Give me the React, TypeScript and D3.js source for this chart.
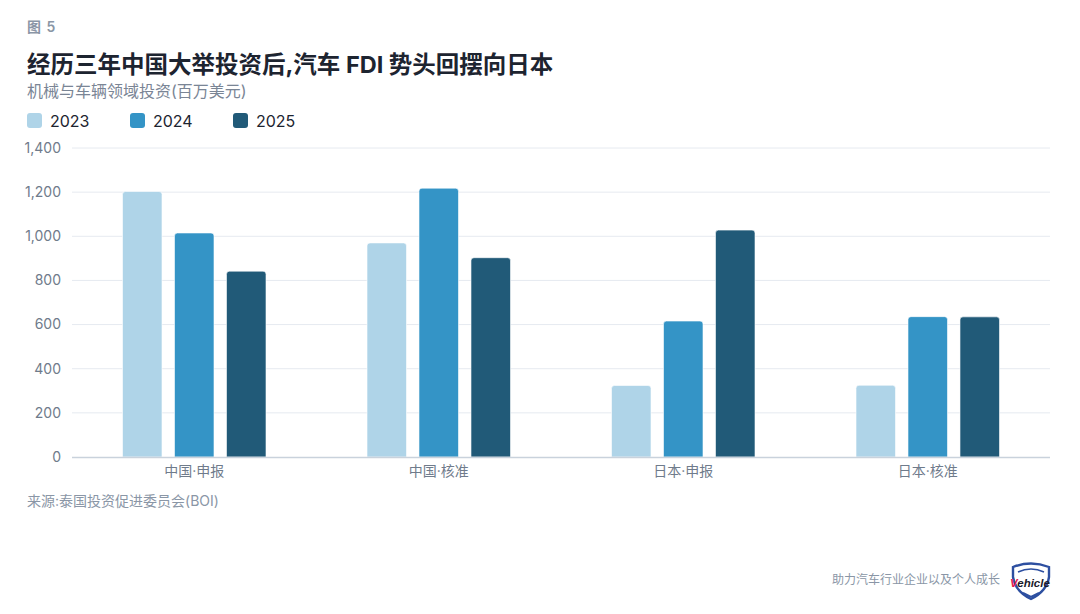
import React from 'react';
import * as d3 from 'd3';

const categories = ['中国·申报', '中国·核准', '日本·申报', '日本·核准'];
const years = ['2023', '2024', '2025'];
const values2023 = [1203, 970, 324, 325];
const values2024 = [1015, 1218, 616, 636];
const values2025 = [842, 903, 1028, 635];
const yTicks = [0, 200, 400, 600, 800, 1000, 1200, 1400];
const colors = ['#afd4e8', '#3494c6', '#215a78'];

const W = 1080;
const H = 614;
const margin = { left: 72, right: 30, top: 148, bottom: 157 };
const FONT = 'Inter, "Noto Sans CJK SC", "Noto Sans", sans-serif';

const App: React.FC = () => {
  const series = [values2023, values2024, values2025];

  const x0 = d3.scaleBand<string>()
    .domain(categories)
    .range([margin.left, W - margin.right]);

  const x1 = d3.scaleBand<string>()
    .domain(years)
    .range([0, 143.5])
    .paddingInner(0.24);

  const y = d3.scaleLinear()
    .domain([0, 1400])
    .range([H - margin.bottom, margin.top]);

  const groupOffset = (x0.bandwidth() - 143.5) / 2;

  return (
    <div style={{ position: 'fixed', inset: 0, background: '#fff' }}>
      <svg width={W} height={H} style={{ display: 'block', fontFamily: FONT }}>
        <rect width={W} height={H} fill="#fff" />

        {/* header */}
        <text x={27} y={32} fontSize={14} fontWeight={600} fill="#8a96a6" letterSpacing={1}>图 5</text>
        <text x={27} y={73} fontSize={23.5} fontWeight={700} fill="#1d2430">
          经历三年中国大举投资后,汽车 FDI 势头回摆向日本
        </text>
        <text x={27} y={97} fontSize={16} fill="#7a8595">机械与车辆领域投资(百万美元)</text>

        {/* legend */}
        {years.map((yr, i) => (
          <g key={yr} transform={`translate(${27 + i * 103},113)`}>
            <rect width={15} height={15} rx={3} fill={colors[i]} />
            <text x={23} y={14} fontSize={16} fill="#1d2430">{yr}</text>
          </g>
        ))}

        {/* grid + y labels */}
        {yTicks.map(t => (
          <g key={t}>
            {t !== 0 && (
              <line x1={margin.left} x2={W - margin.right} y1={y(t)} y2={y(t)}
                stroke="#e6eaf0" strokeWidth={1} />
            )}
            <text x={61} y={y(t)} dy="0.35em" textAnchor="end" fontSize={14} fill="#6f7b8b">
              {d3.format(',')(t)}
            </text>
          </g>
        ))}

        {/* bars */}
        {categories.map((c, ci) => (
          <g key={c} transform={`translate(${(x0(c) ?? 0) + groupOffset},0)`}>
            {years.map((yr, si) => {
              const v = series[si][ci];
              const h = y(0) - y(v);
              return (
                <path
                  key={yr}
                  d={roundedTop(x1(yr) ?? 0, y(v), x1.bandwidth(), h, 3)}
                  fill={colors[si]}
                  stroke="#fff"
                  strokeWidth={0.6}
                />
              );
            })}
          </g>
        ))}

        {/* x axis */}
        <line x1={margin.left} x2={W - margin.right} y1={y(0) + 0.5} y2={y(0) + 0.5}
          stroke="#c9d2dc" strokeWidth={1.5} />
        {categories.map(c => (
          <text key={c} x={(x0(c) ?? 0) + x0.bandwidth() / 2} y={476} textAnchor="middle"
            fontSize={14} fill="#6f7b8b">{c}</text>
        ))}

        {/* source */}
        <text x={27} y={506} fontSize={14} fill="#8a96a6">来源:泰国投资促进委员会(BOI)</text>

        {/* footer */}
        <text x={1000} y={584} textAnchor="end" fontSize={12} fill="#8a96a6">助力汽车行业企业以及个人成长</text>
        <g transform="translate(1011,563)">
          <path d="M2,4 Q20,-3 38,4 L38,14 Q36,28 20,36 Q4,28 2,14 Z" fill="#fff" stroke="#2d4fa0" strokeWidth={2.4} />
          <path d="M7,9 Q20,3 33,9" fill="none" stroke="#2d4fa0" strokeWidth={1.5} />
          <path d="M12,30 L20,34 L28,30" fill="none" stroke="#2d4fa0" strokeWidth={2} />
          <text x={-1} y={24} fontSize={11.5} fontWeight={700} fontStyle="italic" fontFamily="Arial, 'Liberation Sans', sans-serif">
            <tspan fill="#e3174f">V</tspan>
            <tspan fill="#1a1a2a">ehicle</tspan>
          </text>
        </g>
      </svg>
    </div>
  );
};

function roundedTop(x: number, yTop: number, w: number, h: number, r: number): string {
  const rr = Math.min(r, h / 2, w / 2);
  const p = d3.path();
  p.moveTo(x, yTop + h);
  p.lineTo(x, yTop + rr);
  p.quadraticCurveTo(x, yTop, x + rr, yTop);
  p.lineTo(x + w - rr, yTop);
  p.quadraticCurveTo(x + w, yTop, x + w, yTop + rr);
  p.lineTo(x + w, yTop + h);
  p.closePath();
  return p.toString();
}

export default App;
